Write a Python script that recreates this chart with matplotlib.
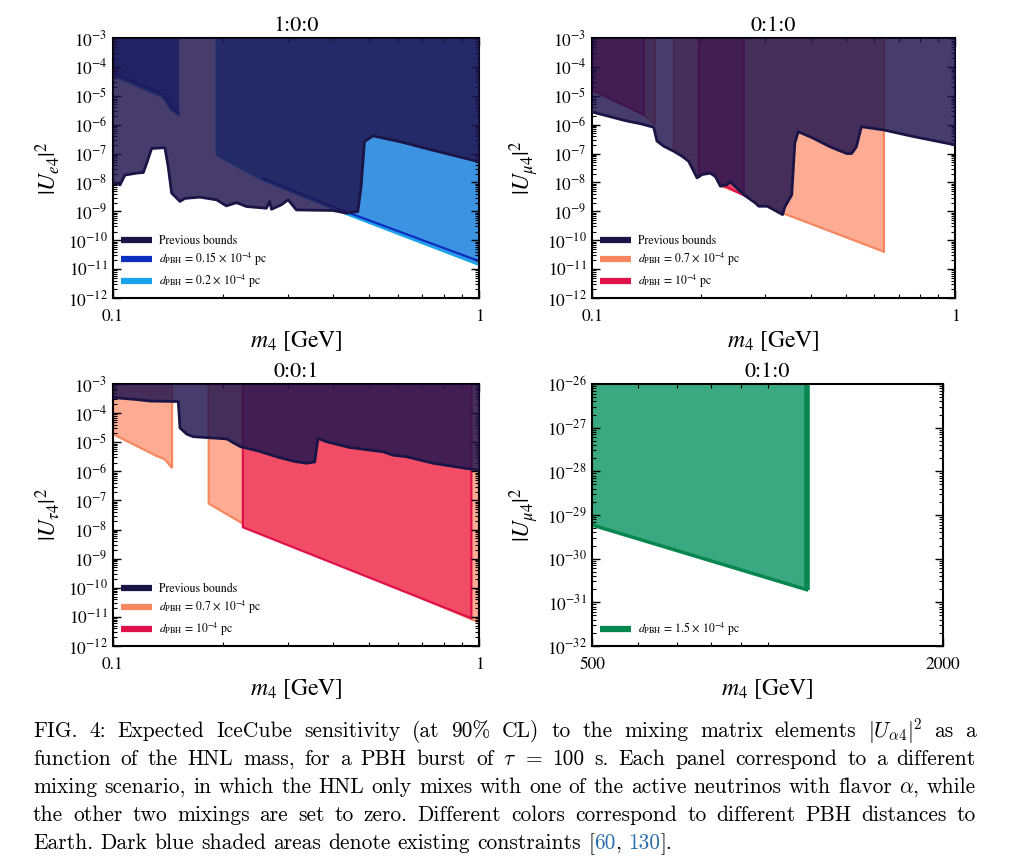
import re
import numpy as np
import matplotlib
matplotlib.use("Agg")
import matplotlib.pyplot as plt
from matplotlib.ticker import LogLocator, NullFormatter, FixedLocator
from matplotlib.lines import Line2D

plt.rcParams['font.family'] = ['STIXGeneral', 'DejaVu Serif']
plt.rcParams['mathtext.fontset'] = 'stix'

# ------------------------------------------------------------------ data
titles = ["1:0:0", "0:1:0", "0:0:1", "0:1:0"]
ylabels = [r"$|U_{e4}|^2$", r"$|U_{\mu4}|^2$", r"$|U_{\tau4}|^2$", r"$|U_{\mu4}|^2$"]
xlabel = r"$m_4$ [GeV]"

gev_xlim = (0.1, 1.0)
gev_xmajor = [0.1, 1.0]
gev_xmajor_labels = ["0.1", "1"]
gev_xminor = [0.2, 0.3, 0.4, 0.5, 0.6, 0.7, 0.8, 0.9]
gev_ylim = (1e-12, 1e-3)

tev_xlim = (500, 2000)
tev_xmajor = [500, 2000]
tev_xmajor_labels = ["500", "2000"]
tev_xminor = [600, 700, 800, 900, 1000]
tev_ylim = (1e-32, 1e-26)

# Panel 1 (1:0:0) previous bounds
p1_prev_m = [0.1, 0.1023, 0.1045, 0.1078, 0.116, 0.121, 0.1236, 0.1275, 0.1386, 0.1415,
             0.1446, 0.1524, 0.1572, 0.1727, 0.1919, 0.204, 0.2175, 0.2316, 0.2625, 0.268,
             0.271, 0.288, 0.301, 0.317, 0.399, 0.4345, 0.4665, 0.4763, 0.4865, 0.5128,
             0.6069, 0.7489, 1.0]
p1_prev_u = [9.8e-9, 9.3e-9, 8.2e-9, 1.8e-8, 2.1e-8, 2.2e-8, 4.6e-8, 1.5e-7, 1.6e-7, 3.5e-8,
             4.3e-9, 2.2e-9, 2.8e-9, 3.1e-9, 2.5e-9, 1.55e-9, 2.0e-9, 1.47e-9, 1.28e-9, 2.2e-9,
             1.18e-9, 1.67e-9, 2.5e-9, 1.12e-9, 1.07e-9, 8.7e-10, 9.8e-10, 7.2e-9, 2.6e-7, 4.1e-7,
             2.6e-7, 1.3e-7, 5.2e-8]
# d = 0.2e-4 pc
p1_d020_a_m = [0.1, 0.137, 0.1446, 0.1508]
p1_d020_a_u = [5.0e-5, 9.0e-6, 3.2e-6, 2.2e-6]
p1_d020_b_m = [0.192, 0.257, 0.4345, 1.0]
p1_d020_b_u = [9.0e-8, 1.2e-8, 8.0e-10, 1.4e-11]
# d = 0.15e-4 pc
p1_d015_a_m = [0.1, 0.137, 0.1446, 0.1508]
p1_d015_a_u = [6.0e-5, 1.1e-5, 3.8e-6, 2.6e-6]
p1_d015_b_m = [0.257, 0.4345, 1.0]
p1_d015_b_u = [1.4e-8, 9.5e-10, 1.9e-11]

# Panel 2 (0:1:0) previous bounds
p2_prev_m = [0.1, 0.1112, 0.1235, 0.1373, 0.1479, 0.151, 0.1576, 0.168, 0.177, 0.1846,
             0.1947, 0.2008, 0.2118, 0.2187, 0.2258, 0.2355, 0.2404, 0.2617, 0.2817, 0.288,
             0.304, 0.335, 0.34, 0.355, 0.362, 0.37, 0.407, 0.4535, 0.503, 0.519, 0.535,
             0.552, 0.635, 0.767, 1.0]
p2_prev_u = [2.75e-6, 1.95e-6, 1.38e-6, 1.05e-6, 8.1e-7, 2.7e-7, 1.8e-7, 1.2e-7, 8.1e-8, 5.4e-8,
             1.44e-8, 1.87e-8, 2.1e-8, 1.6e-8, 7.4e-9, 8.4e-9, 1.05e-8, 3.8e-9, 1.95e-9, 1.5e-9,
             1.5e-9, 7.7e-10, 1.45e-9, 3.7e-9, 2.3e-7, 5.7e-7, 3.4e-7, 1.7e-7, 1.0e-7, 1.0e-7, 1.7e-7,
             8.5e-7, 6.6e-7, 3.9e-7, 2.0e-7]
# d = 0.7e-4 pc
p2_d07_a_m = [0.1, 0.139, 0.149]
p2_d07_a_u = [1.6e-5, 2.2e-6, 1.0e-6]
p2_d07_b_m = [0.168, 0.177, 0.1846, 0.1947, 0.2008, 0.2118, 0.2187, 0.2258, 0.2617, 0.2817,
              0.288, 0.304, 0.336, 0.637]
p2_d07_b_u = [1.25e-7, 8.5e-8, 5.7e-8, 1.5e-8, 1.95e-8, 2.2e-8, 1.7e-8, 7.8e-9, 3.8e-9, 2.0e-9,
              1.55e-9, 1.55e-9, 8.6e-10, 4.0e-11]
# d = 1e-4 pc
p2_d10_a_m = [0.1, 0.139]
p2_d10_a_u = [1.6e-5, 2.2e-6]
p2_d10_b_m = [0.197, 0.2008, 0.2118, 0.2187, 0.2258, 0.2355, 0.2404, 0.262]
p2_d10_b_u = [1.5e-8, 1.95e-8, 2.2e-8, 1.7e-8, 7.7e-9, 7.0e-9, 6.0e-9, 3.6e-9]

# Panel 3 (0:0:1) previous bounds
p3_prev_m = [0.1, 0.1136, 0.1262, 0.1508, 0.1524, 0.159, 0.1657, 0.2047, 0.2148, 0.2232,
             0.2482, 0.2842, 0.313, 0.3376, 0.3556, 0.3633, 0.3833, 0.4433, 0.5467, 0.5819,
             0.6326, 0.7487, 0.9228, 1.0]
p3_prev_u = [3.4e-4, 3.0e-4, 2.6e-4, 2.5e-4, 3.1e-5, 1.9e-5, 1.55e-5, 1.3e-5, 9.1e-6, 7.0e-6,
             5.1e-6, 3.0e-6, 2.2e-6, 1.9e-6, 2.1e-6, 1.35e-5, 1.04e-5, 6.6e-6, 4.7e-6, 3.6e-6,
             3.2e-6, 1.9e-6, 1.26e-6, 1.1e-6]
# d = 0.7e-4 pc
p3_d07_a_m = [0.1, 0.1313, 0.1385, 0.145]
p3_d07_a_u = [1.9e-5, 3.4e-6, 2.6e-6, 1.3e-6]
p3_d07_b_m = [0.1826, 0.2264, 1.0]
p3_d07_b_u = [7.8e-8, 1.6e-8, 6.5e-12]
# d = 1e-4 pc
p3_d10_m = [0.2264, 0.953]
p3_d10_u = [1.2e-8, 9.0e-12]

# Panel 4 (0:1:0, heavy) d = 1.5e-4 pc
p4_d15_m = [500, 1167]
p4_d15_u = [5.9e-30, 1.95e-31]

leg_prev = "Previous bounds"
leg_p1 = [r"$d_{\rm PBH}$ = 0.15 $\times$ 10$^{-4}$ pc", r"$d_{\rm PBH}$ = 0.2 $\times$ 10$^{-4}$ pc"]
leg_p23 = [r"$d_{\rm PBH}$ = 0.7 $\times$ 10$^{-4}$ pc", r"$d_{\rm PBH}$ = 10$^{-4}$ pc"]
leg_p4 = [r"$d_{\rm PBH}$ = 1.5 $\times$ 10$^{-4}$ pc"]

caption_lines = [
    r"FIG. 4: Expected IceCube sensitivity (at 90% CL) to the mixing matrix elements $|U_{\alpha{}4}|^2$ as a",
    r"function of the HNL mass, for a PBH burst of $\tau$ = 100 s. Each panel correspond to a different",
    r"mixing scenario, in which the HNL only mixes with one of the active neutrinos with flavor $\alpha$, while",
    r"the other two mixings are set to zero. Different colors correspond to different PBH distances to",
    r"Earth. Dark blue shaded areas denote existing constraints [60, 130].",
]

# ------------------------------------------------------------------ colours
PREV_FILL = "#20154e"
PREV_ALPHA = 0.83
PREV_LINE = "#1b1547"
LBLUE_FILL, LBLUE_LINE = "#3b93e2", "#1aa3ec"
DBLUE_FILL, DBLUE_LINE = "#2a62d0", "#0b30c0"
SALMON_FILL, SALMON_LINE = "#fdab92", "#f7875f"
RED_FILL, RED_LINE = "#f24d66", "#e0114a"
GREEN_FILL, GREEN_LINE = "#3aa981", "#07874f"
REF_BLUE = "#2a6fb0"

# ------------------------------------------------------------------ helpers
W, H = 1032, 860
fig = plt.figure(figsize=(W / 100, H / 100), dpi=100)

axpos = [
    [113 / W, 1 - 298 / H, 366 / W, 260 / H],
    [592 / W, 1 - 298 / H, 363 / W, 260 / H],
    [113 / W, 1 - 646 / H, 366 / W, 262 / H],
    [592 / W, 1 - 646 / H, 351 / W, 262 / H],
]


def style_axes(ax, xlim, ylim, xmaj, xlab, xmin):
    ax.set_xscale('log')
    ax.set_yscale('log')
    ax.set_xlim(*xlim)
    ax.set_ylim(*ylim)
    ax.xaxis.set_major_locator(FixedLocator(xmaj))
    ax.set_xticklabels(xlab)
    ax.xaxis.set_minor_locator(FixedLocator(xmin))
    ax.xaxis.set_minor_formatter(NullFormatter())
    ax.yaxis.set_major_locator(LogLocator(base=10, numticks=40))
    ax.yaxis.set_minor_locator(LogLocator(base=10, subs=np.arange(2, 10), numticks=400))
    ax.yaxis.set_minor_formatter(NullFormatter())
    ax.tick_params(which='both', direction='in', top=True, right=True, labelsize=12.5)
    ax.tick_params(which='major', length=6, width=1.0)
    ax.tick_params(which='minor', length=3, width=0.8)
    for s in ax.spines.values():
        s.set_linewidth(1.5)
    ax.tick_params(axis='x', pad=8)
    ax.tick_params(axis='y', pad=4)


def region(ax, m, lower, fill, line, lw=1.6, z=1.0, edges=True):
    top = ax.get_ylim()[1]
    m = np.asarray(m, float)
    lo = np.asarray(lower, float)
    ax.fill_between(m, lo, top, color=fill, lw=0, zorder=z)
    if edges:
        xs = np.concatenate([[m[0]], m, [m[-1]]])
        ys = np.concatenate([[top], lo, [top]])
    else:
        xs, ys = m, lo
    ax.plot(xs, ys, color=line, lw=lw, zorder=z + 0.1, solid_joinstyle='miter')


def prev(ax, m, u):
    top = ax.get_ylim()[1]
    ax.fill_between(m, u, top, color=PREV_FILL, alpha=PREV_ALPHA, lw=0, zorder=3)
    ax.plot(m, u, color=PREV_LINE, lw=2.0, zorder=4)


def legend(ax, colors, labels):
    handles = [Line2D([0], [0], color=c, lw=4.5, solid_capstyle='butt') for c in colors]
    ax.legend(handles, labels, loc='lower left', frameon=False, fontsize=8.5,
              handlelength=2.6, handletextpad=0.6, labelspacing=0.35,
              borderaxespad=0.4, borderpad=0.3)


axes = [fig.add_axes(p) for p in axpos]
for i, ax in enumerate(axes):
    if i < 3:
        style_axes(ax, gev_xlim, gev_ylim, gev_xmajor, gev_xmajor_labels, gev_xminor)
    else:
        style_axes(ax, tev_xlim, tev_ylim, tev_xmajor, tev_xmajor_labels, tev_xminor)
    ax.set_title(titles[i], fontsize=16, pad=5)
    ax.set_ylabel(ylabels[i], fontsize=17, labelpad=4)
    ax.set_xlabel(xlabel, fontsize=17, labelpad=3)

# Panel 1
ax = axes[0]
region(ax, p1_d020_a_m, p1_d020_a_u, LBLUE_FILL, LBLUE_LINE, z=1.0)
region(ax, p1_d020_b_m, p1_d020_b_u, LBLUE_FILL, LBLUE_LINE, z=1.0)
region(ax, p1_d015_a_m, p1_d015_a_u, DBLUE_FILL, DBLUE_LINE, z=1.2, edges=False)
region(ax, p1_d015_b_m, p1_d015_b_u, LBLUE_FILL, DBLUE_LINE, z=1.2, edges=False)
prev(ax, p1_prev_m, p1_prev_u)
legend(ax, [PREV_LINE, DBLUE_LINE, LBLUE_LINE], [leg_prev] + leg_p1)

# Panel 2
ax = axes[1]
region(ax, p2_d07_a_m, p2_d07_a_u, SALMON_FILL, SALMON_LINE, z=1.0)
region(ax, p2_d07_b_m, p2_d07_b_u, SALMON_FILL, SALMON_LINE, z=1.0)
region(ax, p2_d10_a_m, p2_d10_a_u, RED_FILL, RED_LINE, z=1.2)
region(ax, p2_d10_b_m, p2_d10_b_u, RED_FILL, RED_LINE, z=1.2)
prev(ax, p2_prev_m, p2_prev_u)
legend(ax, [PREV_LINE, SALMON_LINE, RED_LINE], [leg_prev] + leg_p23)

# Panel 3
ax = axes[2]
region(ax, p3_d07_a_m, p3_d07_a_u, SALMON_FILL, SALMON_LINE, z=1.0)
region(ax, p3_d07_b_m, p3_d07_b_u, SALMON_FILL, SALMON_LINE, z=1.0)
region(ax, p3_d10_m, p3_d10_u, RED_FILL, RED_LINE, z=1.2)
prev(ax, p3_prev_m, p3_prev_u)
legend(ax, [PREV_LINE, SALMON_LINE, RED_LINE], [leg_prev] + leg_p23)

# Panel 4
ax = axes[3]
top4 = ax.get_ylim()[1]
ax.fill_between(p4_d15_m, p4_d15_u, top4, color=GREEN_FILL, lw=0, zorder=1)
ax.plot(p4_d15_m, p4_d15_u, color=GREEN_LINE, lw=2.5, zorder=2)
ax.plot([p4_d15_m[-1], p4_d15_m[-1]], [p4_d15_u[-1], top4], color=GREEN_LINE, lw=4, zorder=2,
        solid_capstyle='butt')
legend(ax, [GREEN_LINE], leg_p4)

# ------------------------------------------------------------------ caption
renderer = fig.canvas.get_renderer()
cap_x0, cap_x1 = 33, 976
cap_baselines = [737, 765, 793, 821, 849]


def words_of(line, last):
    out = []
    for w in line.split(' '):
        if last and re.search(r'\d', w) and not w.startswith('$'):
            segs = [s for s in re.split(r'(\d+)', w) if s]
            out.append([(s, REF_BLUE if s.isdigit() else 'black') for s in segs])
        else:
            out.append([(w, 'black')])
    return out


def make(seg, fs):
    return fig.text(0, 0, seg, fontsize=fs, family=['cmr10', 'DejaVu Serif'],
                    math_fontfamily='cm', va='baseline', ha='left', transform=None)


def measure(fs):
    tot = []
    for li, line in enumerate(caption_lines):
        wl = words_of(line, li == len(caption_lines) - 1)
        width = 0
        for w in wl:
            for s, c in w:
                t = make(s, fs)
                width += t.get_window_extent(renderer).width
                t.remove()
        tot.append((width, len(wl)))
    return tot


fs0 = 13.0
sp_t = make("a a", fs0)
w_aa = sp_t.get_window_extent(renderer).width
sp_t.remove()
sp_t = make("aa", fs0)
space0 = w_aa - sp_t.get_window_extent(renderer).width
sp_t.remove()
meas = measure(fs0)
nat = max(wd + space0 * (n - 1) for wd, n in meas[:-1])
fs = fs0 * (cap_x1 - cap_x0 - 4) / nat
space = space0 * fs / fs0

for li, line in enumerate(caption_lines):
    last = li == len(caption_lines) - 1
    wl = words_of(line, last)
    texts = []
    widths = []
    for w in wl:
        wt = []
        ww = 0
        for s, c in w:
            t = make(s, fs)
            t.set_color(c)
            e = t.get_window_extent(renderer).width
            wt.append((t, e))
            ww += e
        texts.append(wt)
        widths.append(ww)
    if last:
        gap = space
    else:
        gap = (cap_x1 - cap_x0 - sum(widths)) / (len(wl) - 1)
    x = cap_x0
    ybase = H - cap_baselines[li]
    for wt, ww in zip(texts, widths):
        xx = x
        for t, e in wt:
            t.set_position((xx, ybase))
            xx += e
        x += ww + gap

fig.savefig("out.png", dpi=100)
